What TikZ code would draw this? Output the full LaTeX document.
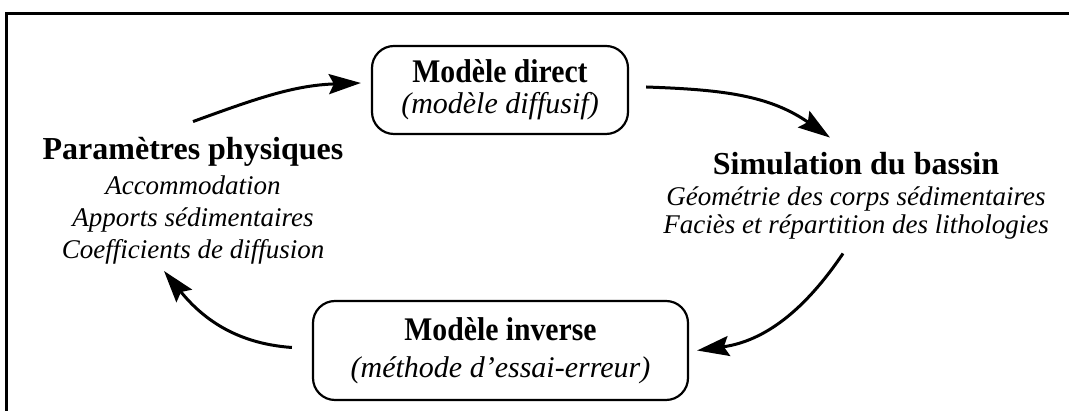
\documentclass[tikz,border=0pt]{standalone}
\usepackage{fontspec}
\setmainfont{Liberation Serif}
\newfontfamily\narrowserif[FakeStretch=0.9]{Liberation Serif}
\usetikzlibrary{arrows.meta, positioning}
\newcommand{\boxtitle}[1]{{\narrowserif\fontsize{33}{31}\selectfont\bfseries #1}}
\tikzset{
  model/.style={draw, line width=2.2pt, rounded corners=22pt, align=center, inner sep=0pt, font=\fontsize{30}{31}\selectfont},
  head/.style={font=\fontsize{32}{36}\selectfont\bfseries, inner sep=0pt, anchor=base},
  detail/.style={font=\fontsize{27}{32}\selectfont\itshape, align=center, inner sep=0pt},
  flow/.style={-{Stealth[length=32pt, width=20pt, inset=5pt]}, line width=3pt},
  frame/.style={line width=3pt}
}

\begin{document}
\begin{tikzpicture}[x=1pt, y=1pt, node distance=8pt]
    \useasboundingbox (0,0) rectangle (1069,411);
    \draw[frame] (6,-10) -- (6,397) -- (1080,397);

    \node[model, minimum width=256pt, minimum height=88pt] (direct) at (500,321) {\boxtitle{Modèle direct}\\\textit{(modèle diffusif)}};
    \node[model, minimum width=375pt, minimum height=99pt] (inverse) at (500.5,60.5) {\boxtitle{Modèle inverse}\\[6pt]\textit{(méthode d'essai-erreur)}};

    \node[head] (para) at (193,251) {Paramètres physiques};
    \node[detail, below=8pt of para] (paratxt) {Accommodation\\Apports sédimentaires\\Coefficients de diffusion};
    \node[head] (sim) at (856,236) {Simulation du bassin};
    \node[detail, below=11pt of sim, font=\fontsize{27}{28}\selectfont\itshape] (simtxt) {Géométrie des corps sédimentaires\\Faciès et répartition des lithologies};

    \draw[flow] ([yshift=16pt]para.north) to[out=20, in=182] ([shift={(-10pt,7pt)}]direct.west);
    \draw[flow] ([shift={(17pt,3pt)}]direct.east) to[out=-2, in=145] ([shift={(-26pt,15pt)}]sim.north);
    \draw[flow] ([shift={(-13pt,-14pt)}]simtxt.south) to[out=-124, in=8] ([xshift=8pt]inverse.east);
    \draw[flow] ([shift={(-20pt,3pt)}]inverse.west) to[out=176, in=-51] ([shift={(-29pt,-7pt)}]paratxt.south);
\end{tikzpicture}
\end{document}
